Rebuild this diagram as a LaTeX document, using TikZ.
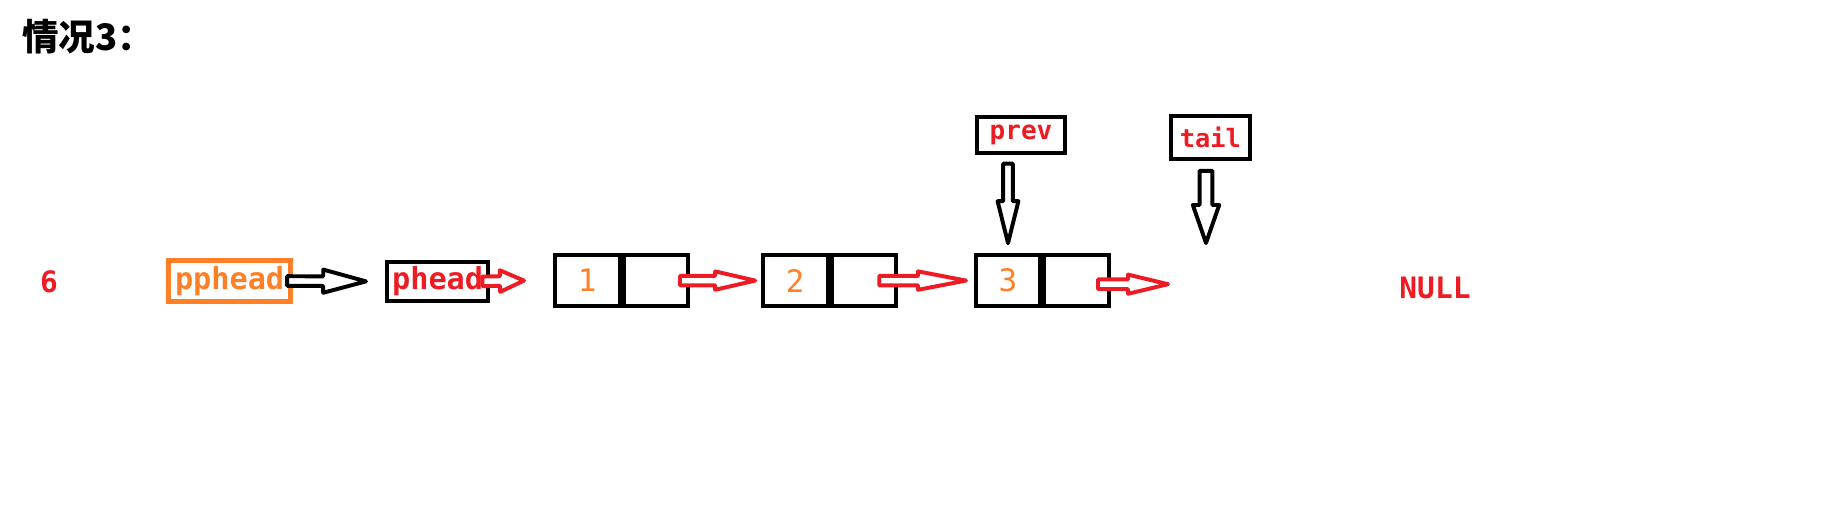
\documentclass[tikz,border=0pt]{standalone}
\usepackage{fontspec}
\usetikzlibrary{calc}
\newfontfamily\cjkfont{Noto Sans CJK SC}
\newfontfamily\codefont{DejaVu Sans Mono}
\definecolor{pred}{RGB}{237,28,36}
\definecolor{porange}{RGB}{255,127,39}
\tikzset{
  box/.style={draw, line width=2.85pt, inner sep=0pt, font=\codefont\bfseries\fontsize{21.5}{25}\selectfont},
  cell/.style={draw, line width=2.85pt, inner sep=0pt, minimum width=1.62cm, minimum height=1.29cm, text=porange, font=\codefont\fontsize{22}{26}\selectfont},
  shaft/.store in=\arrowshaft, headw/.store in=\arrowheadw, headl/.store in=\arrowheadl,
  shaft=0.12cm, headw=0.24cm, headl=1cm,
  hollow/.style={draw, fill=white, line width=2.8pt, line join=round, to path={
    ($(\tikztostart)!\arrowshaft!90:(\tikztotarget)$)
    -- ($($(\tikztotarget)!\arrowheadl!(\tikztostart)$)!\arrowshaft!90:(\tikztotarget)$)
    -- ($($(\tikztotarget)!\arrowheadl!(\tikztostart)$)!\arrowheadw!90:(\tikztotarget)$)
    -- (\tikztotarget)
    -- ($($(\tikztotarget)!\arrowheadl!(\tikztostart)$)!\arrowheadw!-90:(\tikztotarget)$)
    -- ($($(\tikztotarget)!\arrowheadl!(\tikztostart)$)!\arrowshaft!-90:(\tikztotarget)$)
    -- ($(\tikztostart)!\arrowshaft!-90:(\tikztotarget)$)
    -- cycle}},
}
\begin{document}
\begin{tikzpicture}
  \useasboundingbox (0,0) rectangle (45.875,13.175);

  \node[anchor=west, inner sep=0pt, font=\cjkfont\bfseries\fontsize{26}{30}\selectfont] at (0.55,12.25) (title) {情况3：};
  \node[text=pred, inner sep=0pt, font=\codefont\bfseries\fontsize{21}{25}\selectfont] at (1.225,6.125) (six) {6};

  \node[box, draw=porange, text=porange, line width=3.5pt, minimum width=3.05cm, minimum height=1.03cm] at (5.74,6.15) (pphead) {pphead};
  \node[box, text=pred, minimum width=2.54cm, minimum height=0.99cm] at (10.94,6.14) (phead) {phead};

  % list nodes
  \node[cell] at (14.68,6.16) (n1) {1};
  \node[cell, anchor=west] at (n1.east) (n1p) {};
  \node[cell] at (19.88,6.16) (n2) {2};
  \node[cell, anchor=west] at (n2.east) (n2p) {};
  \node[cell] at (25.2,6.16) (n3) {3};
  \node[cell, anchor=west] at (n3.east) (n3p) {};

  \node[box, text=pred, font=\codefont\bfseries\fontsize{18.5}{22}\selectfont, minimum width=2.21cm, minimum height=0.91cm] at (25.525,9.8) (prev) {prev};
  \node[box, text=pred, font=\codefont\bfseries\fontsize{18}{22}\selectfont, minimum width=1.99cm, minimum height=1.09cm] at (30.26,9.74) (tail) {tail};
  \node[text=pred, inner sep=0pt, font=\codefont\bfseries\fontsize{21}{25}\selectfont] at (35.875,5.975) (null) {NULL};

  \coordinate (next3) at (29.2,6.07);
  \coordinate (tailtip) at (30.15,7.1);

  % pointers
  \draw[hollow, headl=1.07cm, headw=0.29cm] ([xshift=-0.15cm]pphead.east) to ([xshift=-0.47cm]phead.west);
  \draw[hollow, draw=pred, headl=0.6cm, headw=0.27cm] ([xshift=-0.2cm]phead.east) to ([xshift=-0.72cm]n1.west);
  \draw[hollow, draw=pred, headw=0.23cm] ([xshift=-0.26cm]n1p.east) to ([xshift=-0.14cm]n2.west);
  \draw[hollow, draw=pred, headl=1.2cm, headw=0.23cm] ([xshift=-0.48cm]n2p.east) to ([xshift=-0.19cm]n3.west);
  \draw[hollow, draw=pred] ([xshift=-0.33cm,yshift=-0.09cm]n3p.east) to (next3);

  \draw[hollow, headl=1.05cm, headw=0.26cm] ($(n3.north |- prev.south)+(0,-0.21)$) to ([yshift=0.24cm]n3.north);
  \draw[hollow, shaft=0.16cm, headl=0.95cm, headw=0.33cm] ($(tailtip |- tail.south)+(0,-0.24)$) to (tailtip);

\end{tikzpicture}
\end{document}
